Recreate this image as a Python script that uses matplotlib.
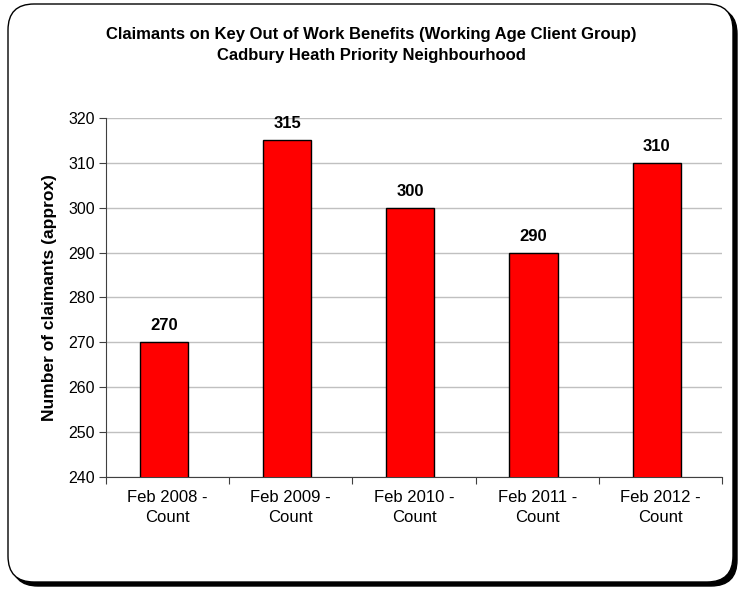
import matplotlib.pyplot as plt
from matplotlib.patches import FancyBboxPatch

plt.rcParams['font.family'] = ['Liberation Sans', 'DejaVu Sans']

# data
categories = ['Feb 2008 -\nCount', 'Feb 2009 -\nCount', 'Feb 2010 -\nCount',
              'Feb 2011 -\nCount', 'Feb 2012 -\nCount']
values = [270, 315, 300, 290, 310]
y_ticks = [240, 250, 260, 270, 280, 290, 300, 310, 320]

fig = plt.figure(figsize=(7.42, 5.90), dpi=100)

# outer rounded frame with shadow
W, H = 742.0, 590.0
shadow = FancyBboxPatch((12 / W, 4 / H), 725 / W, 578 / H,
                        boxstyle='round,pad=0,rounding_size=0.035',
                        transform=fig.transFigure, facecolor='black',
                        edgecolor='black', zorder=0, mutation_aspect=W / H)
frame = FancyBboxPatch((8 / W, 8 / H), 725 / W, 578 / H,
                       boxstyle='round,pad=0,rounding_size=0.035',
                       transform=fig.transFigure, facecolor='white',
                       edgecolor='black', linewidth=1.0, zorder=1,
                       mutation_aspect=W / H)
fig.patches.extend([shadow, frame])

ax = fig.add_axes([106 / W, 1 - 477 / H, 616 / W, 359 / H])
ax.set_zorder(2)
ax.patch.set_alpha(0)

x = [i - 0.03 for i in range(len(categories))]
bars = ax.bar(x, values, width=0.39, color='#ff0000', edgecolor='black',
              linewidth=1.0, zorder=3)
for b, v in zip(bars, values):
    ax.text(b.get_x() + b.get_width() / 2, v + 2.0, str(v), ha='center',
            va='bottom', fontsize=12, fontweight='bold')

ax.set_ylim(240, 320)
ax.set_xlim(-0.5, len(categories) - 0.5)
ax.set_yticks(y_ticks)
ax.tick_params(axis='y', labelsize=11.5, direction='out', length=5,
               color='#404040', pad=3)
ax.yaxis.grid(True, color='#c0c0c0', linewidth=1.0, zorder=0)
ax.set_axisbelow(True)

ax.set_xticks([i + 0.5 for i in range(-1, len(categories))], minor=False)
ax.set_xticklabels([])
ax.set_xticks(list(range(len(categories))), minor=True)
ax.set_xticklabels(categories, minor=True, fontsize=12, linespacing=1.45)
ax.tick_params(axis='x', which='major', direction='out', length=5,
               color='#404040')
ax.tick_params(axis='x', which='minor', length=0, pad=9)

for s in ['top', 'right']:
    ax.spines[s].set_visible(False)
for s in ['left', 'bottom']:
    ax.spines[s].set_color('#404040')

ax.set_ylabel('Number of claimants (approx)', fontsize=12.5, fontweight='bold',
              labelpad=8)

fig.text(0.5, 1 - 45 / H,
         'Claimants on Key Out of Work Benefits (Working Age Client Group)\n'
         'Cadbury Heath Priority Neighbourhood',
         ha='center', va='center', fontsize=12, fontweight='bold',
         linespacing=1.45)

fig.savefig('out.png', dpi=100)
